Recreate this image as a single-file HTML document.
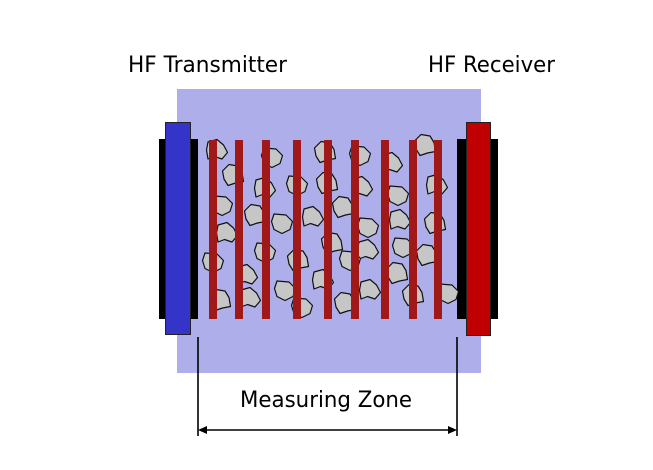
<!DOCTYPE html>
<html><head><meta charset="utf-8"><style>
html,body{margin:0;padding:0;background:#fff;width:653px;height:470px;overflow:hidden}
svg{display:block}
text{font-family:"DejaVu Sans","Liberation Sans",sans-serif;fill:#000}
</style></head><body>
<svg width="653" height="470" viewBox="0 0 653 470" xmlns="http://www.w3.org/2000/svg">
<defs>
<path id="r1" d="M-9,-8 L0,-10.5 L6.5,-5 L10.5,2.5 L5,9 L-2.5,6.5 L-9,9 L-10.5,0 Z"/>
<path id="r2" d="M-8,-9 L4,-8 L10.5,-1.5 L8,6.5 L0,10.5 L-8,6.5 L-10.5,-1.5 Z"/>
<path id="r3" d="M-10.5,-4 L-4,-10.5 L5,-9 L9,-2.5 L10.5,6.5 L2.5,8 L-5,10.5 L-9,4 Z"/>
</defs>
<rect x="177" y="89" width="304" height="284" fill="#aeafea"/>
<rect x="159" y="139" width="39" height="180" fill="#000"/>
<rect x="165.5" y="122.5" width="25" height="212" fill="#3434c8" stroke="#222" stroke-width="1"/>
<rect x="457" y="139" width="41" height="180" fill="#000"/>
<rect x="466.5" y="122.5" width="24" height="213" fill="#c00000" stroke="#222" stroke-width="1"/>
<g fill="#c6c6c6" stroke="#111" stroke-width="1.2" stroke-linejoin="round">
<use href="#r1" x="217" y="150"/><use href="#r2" x="272" y="157"/><use href="#r3" x="325" y="152"/>
<use href="#r2" x="360" y="155"/><use href="#r1" x="392" y="163"/><use href="#r3" x="425" y="145"/>
<use href="#r3" x="233" y="175"/><use href="#r1" x="265" y="188"/><use href="#r2" x="297" y="185"/>
<use href="#r3" x="327" y="183"/><use href="#r1" x="362" y="187"/><use href="#r2" x="398" y="195"/>
<use href="#r1" x="437" y="185"/><use href="#r2" x="222" y="205"/><use href="#r3" x="255" y="215"/>
<use href="#r2" x="282" y="223"/><use href="#r1" x="313" y="217"/><use href="#r3" x="343" y="207"/>
<use href="#r2" x="368" y="227"/><use href="#r1" x="400" y="220"/><use href="#r3" x="435" y="223"/>
<use href="#r1" x="227" y="233"/><use href="#r2" x="265" y="252"/><use href="#r3" x="332" y="243"/>
<use href="#r1" x="368" y="250"/><use href="#r2" x="403" y="247"/><use href="#r3" x="427" y="255"/>
<use href="#r2" x="213" y="262"/><use href="#r1" x="247" y="275"/><use href="#r3" x="298" y="260"/>
<use href="#r2" x="350" y="260"/><use href="#r1" x="323" y="280"/><use href="#r3" x="397" y="273"/>
<use href="#r2" x="285" y="290"/><use href="#r1" x="370" y="290"/><use href="#r3" x="413" y="295"/>
<use href="#r2" x="448" y="293"/><use href="#r3" x="220" y="300"/><use href="#r1" x="250" y="298"/>
<use href="#r2" x="302" y="307"/><use href="#r3" x="345" y="303"/>
</g>
<g fill="#a01818">
<rect x="209" y="140" width="8" height="179"/><rect x="235" y="140" width="8" height="179"/>
<rect x="262" y="140" width="8" height="179"/><rect x="293" y="140" width="8" height="179"/>
<rect x="324" y="140" width="8" height="179"/><rect x="351" y="140" width="8" height="179"/>
<rect x="381" y="140" width="8" height="179"/><rect x="409" y="140" width="8" height="179"/>
<rect x="434" y="140" width="8" height="179"/>
</g>
<g stroke="#000" stroke-width="1.6">
<line x1="198" y1="337" x2="198" y2="436"/>
<line x1="457" y1="337" x2="457" y2="436"/>
<line x1="202" y1="430" x2="453" y2="430"/>
</g>
<path d="M198,430 L207,426 L207,434 Z" fill="#000"/>
<path d="M457,430 L448,426 L448,434 Z" fill="#000"/>
<text x="128" y="72" font-size="22" textLength="159" lengthAdjust="spacingAndGlyphs">HF Transmitter</text>
<text x="428" y="72" font-size="22" textLength="127" lengthAdjust="spacingAndGlyphs">HF Receiver</text>
<text x="240" y="407" font-size="22" textLength="172" lengthAdjust="spacingAndGlyphs">Measuring Zone</text>
</svg>
</body></html>
